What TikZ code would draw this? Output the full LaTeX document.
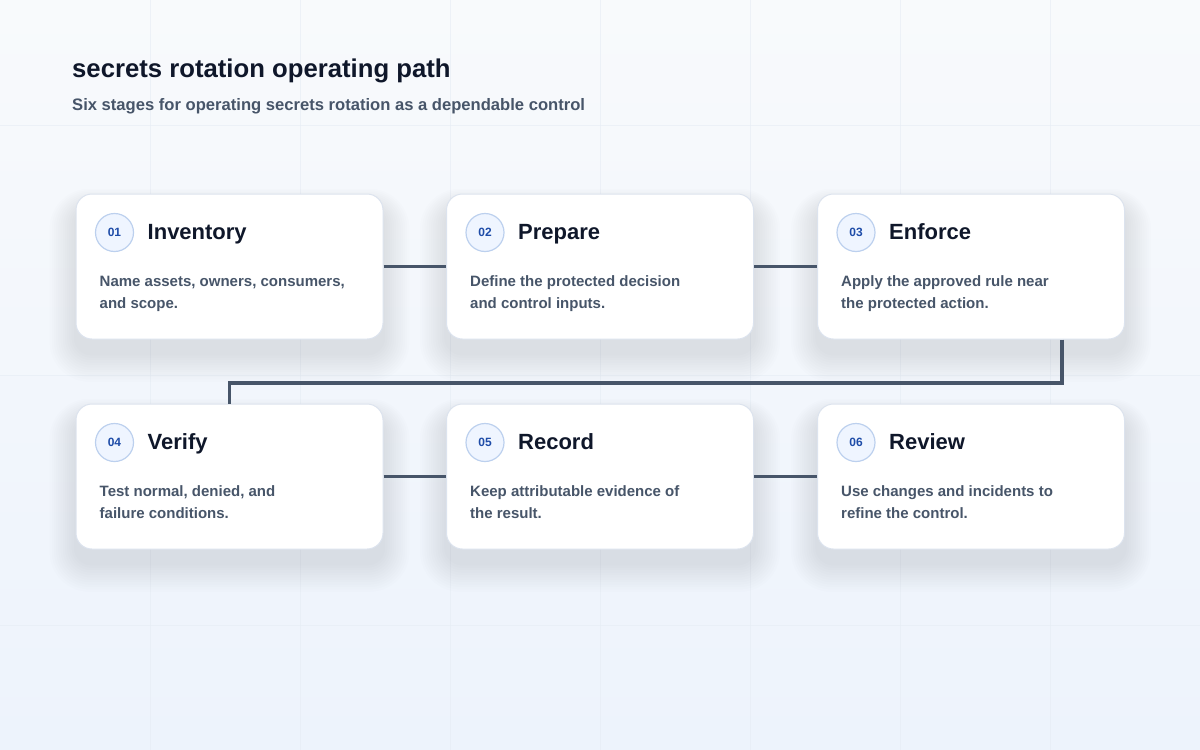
\documentclass[tikz,border=0pt]{standalone}
\usepackage{fontspec}
\setmainfont{Liberation Sans}
\usetikzlibrary{calc}
\definecolor{bgtop}{HTML}{F8FAFC}
\definecolor{bgbot}{HTML}{EDF3FC}
\definecolor{gridc}{HTML}{E6ECF4}
\definecolor{ink}{HTML}{0F172A}
\definecolor{muted}{HTML}{475569}
\definecolor{conncol}{HTML}{475569}
\definecolor{cardedge}{HTML}{DCE3EE}
\definecolor{shadowc}{HTML}{64748B}
\definecolor{badgefill}{HTML}{EFF5FF}
\definecolor{badgeedge}{HTML}{BCD0EE}
\definecolor{badgetext}{HTML}{1E4CA8}
\tikzset{
  card/.style={draw=cardedge, line width=1pt, fill=white, rounded corners=16pt,
    minimum width=307pt, minimum height=145pt, inner sep=0pt},
  badge/.style={circle, draw=badgeedge, line width=1.2pt, fill=badgefill,
    minimum size=38pt, inner sep=0pt, text=badgetext,
    font=\fontsize{12}{14}\selectfont\bfseries},
  cardtitle/.style={anchor=base west, inner sep=0pt, text=ink,
    font=\fontsize{22}{26}\selectfont\bfseries},
  cardbody/.style={anchor=base west, inner sep=0pt, text=muted,
    font=\fontsize{15}{22}\selectfont\bfseries},
  conn/.style={draw=conncol, line width=3.6pt},
}
\newcommand{\mkcard}[6]{%
  % #1 name, #2 cx, #3 cy, #4 number, #5 title, #6 body (two lines via \\)
  \foreach \k in {1,...,12}{
    \fill[shadowc, opacity=0.010, rounded corners=16pt+\k*2pt]
      ($(#2,#3)+(-153.5-\k*2.2,-72.5+14-\k*1.6)$) rectangle
      ($(#2,#3)+(153.5+\k*2.2,72.5+14+\k*2.4)$);
  }
  \node[card] (#1) at (#2,#3) {};
  \node[badge] (#1n) at ($(#1.north west)+(39,39)$) {#4};
  \node[cardtitle] (#1t) at ($(#1.north west)+(72,46)$) {#5};
  \node[cardbody, align=left] (#1b) at ($(#1.north west)+(24,114.5)$) {#6};
}
\begin{document}
\begin{tikzpicture}[x=1pt, y=-1pt]
\useasboundingbox (0,0) rectangle (1200,750);
\shade[top color=bgtop, bottom color=bgbot] (0,0) rectangle (1200,750);
\foreach \gx in {150,300,...,1050}{
  \draw[gridc, line width=0.8pt, opacity=0.6] (\gx,0) -- (\gx,750);
}
\foreach \gy in {125,375,625}{
  \draw[gridc, line width=0.8pt, opacity=0.6] (0,\gy) -- (1200,\gy);
}
\node[anchor=base west, inner sep=0pt, text=ink, font=\fontsize{25.7}{30}\selectfont\bfseries] (title) at (72,77) {secrets rotation operating path};
\node[anchor=base west, inner sep=0pt, text=muted, font=\fontsize{16.6}{20}\selectfont\bfseries] (subtitle) at (72,110) {Six stages for operating secrets rotation as a dependable control};

\mkcard{c1}{229.5}{266.5}{01}{Inventory}{Name assets, owners, consumers,\\and scope.}
\mkcard{c2}{600}{266.5}{02}{Prepare}{Define the protected decision\\and control inputs.}
\mkcard{c3}{971}{266.5}{03}{Enforce}{Apply the approved rule near\\the protected action.}
\mkcard{c4}{229.5}{476.5}{04}{Verify}{Test normal, denied, and\\failure conditions.}
\mkcard{c5}{600}{476.5}{05}{Record}{Keep attributable evidence of\\the result.}
\mkcard{c6}{971}{476.5}{06}{Review}{Use changes and incidents to\\refine the control.}

\draw[conn] (c1.east) -- (c2.west);
\draw[conn] (c2.east) -- (c3.west);
\draw[conn] (c4.east) -- (c5.west);
\draw[conn] (c5.east) -- (c6.west);
\coordinate (elbow) at (1062,383);
\draw[conn] (c3.south -| elbow) -- (elbow) -| (c4.north);
\end{tikzpicture}
\end{document}
